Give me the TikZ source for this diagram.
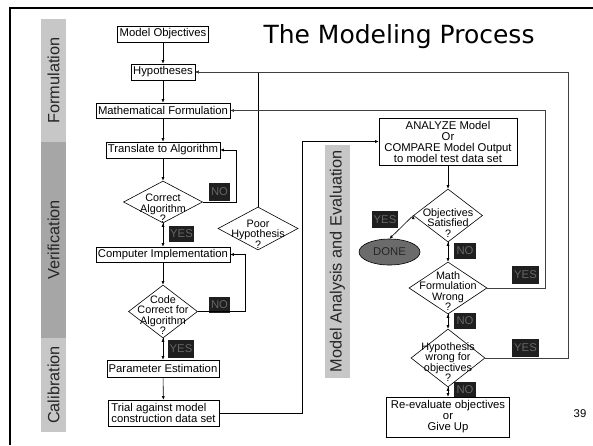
\documentclass[tikz,border=0pt]{standalone}
\usepackage{fontspec}
\setmainfont{Liberation Sans}
\newfontfamily\titlefont{DejaVu Sans}
\usepackage{tikz}
\usetikzlibrary{shapes.geometric,arrows.meta}

\begin{document}
\begin{tikzpicture}[x=1pt, y=-1pt, line width=0.6pt, >={Latex[length=3.5pt,width=3pt]},
        every node/.style={font=\fontsize{11.3}{11}\selectfont},
        box/.style={draw, fill=white, inner sep=0pt, align=center},
        dia/.style={draw, diamond, fill=white, inner sep=0pt},
        dtext/.style={align=center, inner sep=0pt, font=\fontsize{10.8}{10.6}\selectfont},
        tag/.style={fill=black!88, text=black!60, inner sep=0pt},
        band/.style={rotate=90, minimum height=25pt, inner sep=0pt, text=black!85, font=\fontsize{16.3}{16}\selectfont}]
        \useasboundingbox (0,0) rectangle (593,445);
        \draw[line width=2.5pt] (10,445) -- (10,8) -- (593,8);

        \node[band, fill=black!22, minimum width=123pt] (form)  at (53.5, 80.5)  {Formulation};
        \node[band, fill=black!35, minimum width=196pt] (verif) at (53.5, 240)   {Verification};
        \node[band, fill=black!22, minimum width=94pt]  (calib) at (53.5, 385)   {Calibration};
        \node[band, fill=black!22, minimum width=233pt] (eval)  at (337.5, 261.5) {Model Analysis and Evaluation};

        \node[font=\titlefont\fontsize{25}{25}\selectfont, anchor=base] (title) at (399, 43) {The Modeling Process};
        \node[anchor=base] (pnum) at (580, 417) {39};

        \node[box, minimum width=91pt,  minimum height=16pt] (mo)  at (163, 34)    {Model Objectives};
        \node[box, minimum width=64pt,  minimum height=16pt] (hyp) at (163, 72)    {Hypotheses};
        \node[box, minimum width=134pt, minimum height=15pt] (mf)  at (163, 110.5) {Mathematical Formulation};
        \node[box, minimum width=114pt, minimum height=16pt] (ta)  at (163, 150)   {Translate to Algorithm};
        \node[box, minimum width=134pt, minimum height=15pt] (ci)  at (163, 254.5) {Computer Implementation};
        \node[box, minimum width=112pt, minimum height=17pt] (pe)  at (163, 368.5) {Parameter Estimation};
        \node[box, minimum width=111pt, minimum height=26pt, align=left] (tr) at (163.5, 413)
            {Trial against model\\construction data set};
        \node[box, minimum width=138pt, minimum height=47pt] (an)  at (448, 141.5)
            {ANALYZE Model\\Or\\COMPARE Model Output\\to model test data set};
        \node[box, minimum width=123pt, minimum height=40pt] (re)  at (448, 417)
            {Re-evaluate objectives\\or\\Give Up};

        \node[dia, minimum width=79pt, minimum height=42pt] (ca) at (163, 202)   {};
        \node[dia, minimum width=80pt, minimum height=43pt] (ph) at (258, 228.5) {};
        \node[dia, minimum width=69pt, minimum height=53pt] (cc) at (163, 311.5) {};
        \node[dia, minimum width=69pt, minimum height=53pt] (os) at (448, 215.5) {};
        \node[dia, minimum width=78pt, minimum height=52pt] (mw) at (448, 288)   {};
        \node[dia, minimum width=74pt, minimum height=58pt] (hw) at (448, 358)   {};

        \node[dtext] (ca-t) at (163, 208.5) {Correct\\Algorithm\\?};
        \node[dtext] (ph-t) at (258, 234)   {Poor\\Hypothesis\\?};
        \node[dtext] (cc-t) at (163, 315)   {Code\\Correct for\\Algorithm\\?};
        \node[dtext] (os-t) at (448, 223)   {Objectives\\Satisfied\\?};
        \node[dtext] (mw-t) at (448, 291)   {Math\\Formulation\\Wrong\\?};
        \node[dtext] (hw-t) at (448, 362)   {Hypothesis\\wrong for\\objectives\\?};

        \node[draw, ellipse, fill=black!58, text=black!85, minimum width=61pt, minimum height=26pt, inner sep=0pt] (done) at (389.5, 252) {DONE};

        \node[tag, minimum width=21pt, minimum height=18pt] (ca-no)  at (219.5, 192) {NO};
        \node[tag, minimum width=25pt, minimum height=16pt] (ca-yes) at (181.5, 234) {YES};
        \node[tag, minimum width=21pt, minimum height=16pt] (cc-no)  at (219.5, 305) {NO};
        \node[tag, minimum width=26pt, minimum height=18pt] (cc-yes) at (181, 349)   {YES};
        \node[tag, minimum width=26pt, minimum height=17pt] (os-yes) at (385, 219.5) {YES};
        \node[tag, minimum width=22pt, minimum height=16pt] (os-no)  at (465, 251)   {NO};
        \node[tag, minimum width=27pt, minimum height=18pt] (mw-yes) at (525.5, 275) {YES};
        \node[tag, minimum width=22pt, minimum height=16pt] (mw-no)  at (465, 321)   {NO};
        \node[tag, minimum width=27pt, minimum height=18pt] (hw-yes) at (525.5, 348) {YES};
        \node[tag, minimum width=22pt, minimum height=15pt] (hw-no)  at (465, 389.5) {NO};

        \coordinate (ca-up) at (236, 150);
        \coordinate (cc-up) at (245, 254.5);
        \coordinate (tr-up) at (302, 141.5);
        \coordinate (mw-up) at (545, 110.5);
        \coordinate (hw-up) at (568, 72);

        \draw[->] (mo) edge (hyp);
        \draw[->] (hyp) edge (mf);
        \draw[->] (mf) edge (ta);
        \draw[->] (ta) edge (ca.north);
        \draw[->] (ca.south) edge (ci);
        \draw[->] (ca.east) -| (ca-up) -- (ta.east);
        \draw[->] (ci) edge (cc.north);
        \draw[->] (cc.east) -| (cc-up) -- (ci.east);
        \draw[->] (cc.south) edge (pe);
        \draw[->] (pe) edge (tr);
        \draw[->] (tr.east) -| (tr-up) -- (an.west);
        \draw[->] (ph.north) |- (hyp.east);
        \draw[->] (an) edge (os.north);
        \draw[->] (os.west) edge (done.north);
        \draw[->] (os.south) edge (mw.north);
        \draw[->, black!75] (mw.east) -| (mw-up) -- (mf.east);
        \draw[->] (mw.south) edge (hw.north);
        \draw[->, black!75] (hw.east) -| (hw-up) -- (hyp.east);
        \draw[->] (hw.south) edge (re);
      \end{tikzpicture}
\end{document}
